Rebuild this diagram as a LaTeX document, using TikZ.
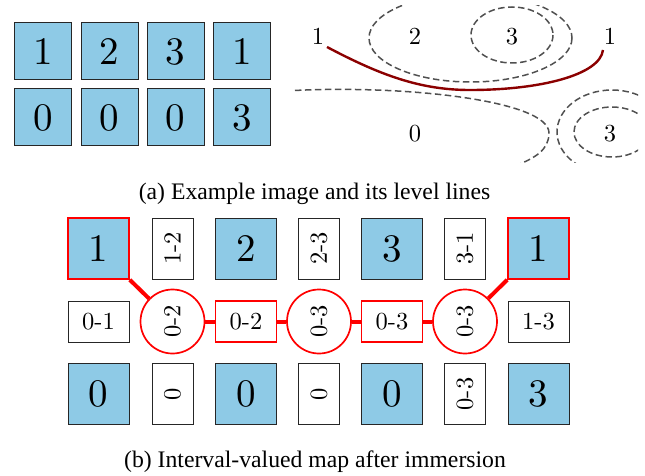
\documentclass[tikz,border=0pt]{standalone}
\usepackage{fontspec}
\usepackage{graphicx}
\newfontfamily\capfont{Liberation Serif}
\definecolor{cellblue}{RGB}{142,202,230}
\definecolor{lvlgray}{RGB}{80,80,80}
\definecolor{curvered}{RGB}{139,0,0}
\newcommand\BigDg[1]{\scalebox{3.9}{\fontsize{10}{12}\selectfont #1}}
\newcommand\SmDg[1]{\scalebox{2.45}{\fontsize{10}{12}\selectfont #1}}
\begin{document}
\begin{tikzpicture}[x=1pt,y=-1pt,
  pix/.style={draw=black!85, fill=cellblue, line width=1pt, minimum width=57pt, minimum height=57pt, inner sep=0pt},
  cell/.style={draw=black!85, fill=cellblue, line width=1pt, minimum width=61pt, minimum height=61pt, inner sep=0pt},
  tag/.style={draw=black!85, fill=white, line width=1pt, inner sep=0pt, minimum width=61pt, minimum height=41pt},
  vtag/.style={tag, rotate=90},
  hot/.style={draw=red, line width=1.7pt},
  ring/.style={circle, draw=red, fill=white, line width=1.7pt, minimum size=64pt, inner sep=0pt, rotate=90},
  link/.style={draw=red, line width=4pt},
  lvl/.style={draw=lvlgray, line width=1.5pt, dash pattern=on 6.5pt off 3.5pt},
  lvllabel/.style={anchor=base, inner sep=0pt},
  captext/.style={anchor=base, inner sep=0pt, font=\capfont\fontsize{23.7}{24}\selectfont}
]
\useasboundingbox (0,0) rectangle (645,476);

% (a) left: example image
\node[pix] (a11) at (43,51.5) {\BigDg{1}};
\node[pix] (a12) at (109.5,51.5) {\BigDg{2}};
\node[pix] (a13) at (175.5,51.5) {\BigDg{3}};
\node[pix] (a14) at (242,51.5) {\BigDg{1}};
\node[pix] (a21) at (43,117.5) {\BigDg{0}};
\node[pix] (a22) at (109.5,117.5) {\BigDg{0}};
\node[pix] (a23) at (175.5,117.5) {\BigDg{0}};
\node[pix] (a24) at (242,117.5) {\BigDg{3}};

% (a) right: level lines
\begin{scope}
  \clip (292,6) rectangle (638,162);
  \draw[lvl] (470.5,38) ellipse [x radius=101.5, y radius=44];
  \draw[lvl] (512,35) ellipse [x radius=41, y radius=28];
  \draw[lvl] (612,132) ellipse [x radius=55, y radius=42];
  \draw[lvl] (612,132) ellipse [x radius=38, y radius=25];
  \draw[lvl] (285,91) .. controls (400,84) and (549,100) .. (549,133)
             .. controls (549,150) and (535,158) .. (515,166);
\end{scope}
\node[lvllabel] (l1) at (318,45) {\SmDg{1}};
\node[lvllabel] (l2) at (415,45) {\SmDg{2}};
\node[lvllabel] (l3) at (512,45) {\SmDg{3}};
\node[lvllabel] (l4) at (610,45) {\SmDg{1}};
\node[lvllabel] (l5) at (415,142) {\SmDg{0}};
\node[lvllabel] (l6) at (610,142) {\SmDg{3}};
\draw[curvered, line width=2.4pt] (327,47) .. controls (380,75) and (420,90) .. (470,90)
      .. controls (540,90) and (600,75) .. (603,50);

\node[captext] (capa) at (314.5,199) {(a) Example image and its level lines};

% (b) interval-valued map
\node[cell, hot] (b11) at (98.5,248.5) {\BigDg{1}};
\node[vtag] (b12) at (172.5,248.5) {\SmDg{1-2}};
\node[cell] (b13) at (246,248.5) {\BigDg{2}};
\node[vtag] (b14) at (319,248.5) {\SmDg{2-3}};
\node[cell] (b15) at (392,248.5) {\BigDg{3}};
\node[vtag] (b16) at (465,248.5) {\SmDg{3-1}};
\node[cell, hot] (b17) at (538.5,248.5) {\BigDg{1}};

\node[tag] (b21) at (98.5,321.5) {\SmDg{0-1}};
\node[ring] (b22) at (172.5,321.5) {\SmDg{0-2}};
\node[tag, hot] (b23) at (246,321.5) {\SmDg{0-2}};
\node[ring] (b24) at (319,321.5) {\SmDg{0-3}};
\node[tag, hot] (b25) at (392,321.5) {\SmDg{0-3}};
\node[ring] (b26) at (465,321.5) {\SmDg{0-3}};
\node[tag] (b27) at (538.5,321.5) {\SmDg{1-3}};

\node[cell] (b31) at (98.5,394) {\BigDg{0}};
\node[vtag] (b32) at (172.5,394) {\SmDg{0}};
\node[cell] (b33) at (246,394) {\BigDg{0}};
\node[vtag] (b34) at (319,394) {\SmDg{0}};
\node[cell] (b35) at (392,394) {\BigDg{0}};
\node[vtag] (b36) at (465,394) {\SmDg{0-3}};
\node[cell] (b37) at (538.5,394) {\BigDg{3}};

\draw[link] (b11.south east) -- (b22);
\draw[link] (b22) -- (b23);
\draw[link] (b23) -- (b24);
\draw[link] (b24) -- (b25);
\draw[link] (b25) -- (b26);
\draw[link] (b26) -- (b17.south west);

\node[captext] (capb) at (315,467) {(b) Interval-valued map after immersion};
\end{tikzpicture}
\end{document}
